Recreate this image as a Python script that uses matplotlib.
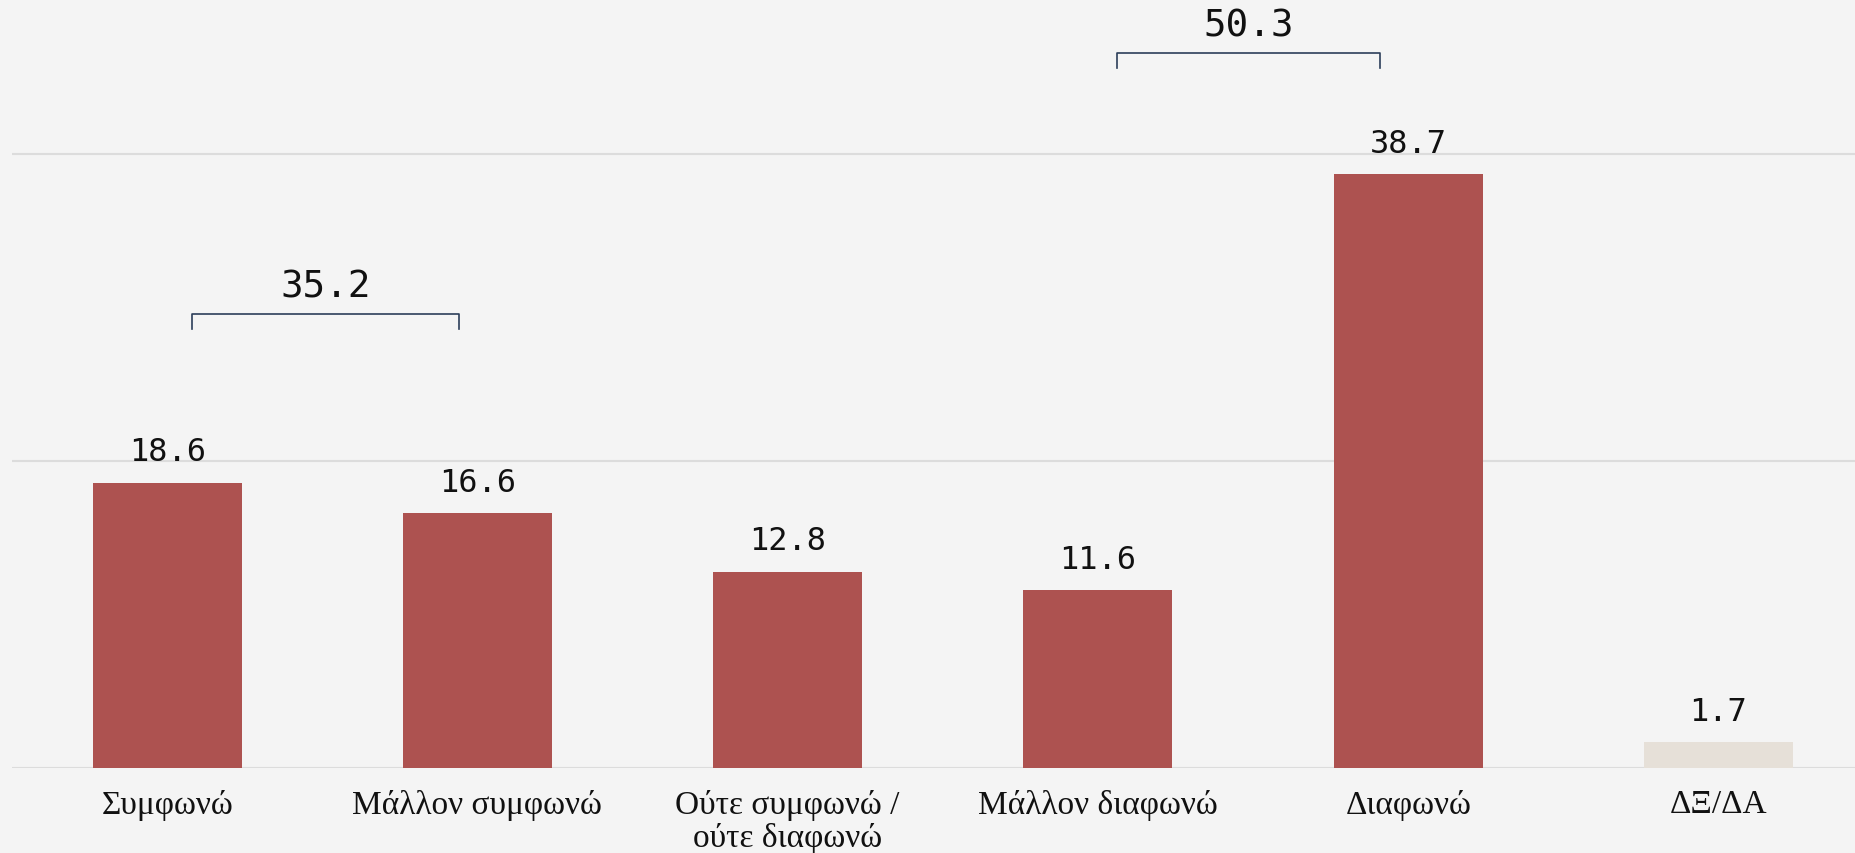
import numpy as np
import matplotlib
matplotlib.use("Agg")
import matplotlib.pyplot as plt

categories = ["Συμφωνώ", "Μάλλον συμφωνώ", "Ούτε συμφωνώ /\nούτε διαφωνώ",
              "Μάλλον διαφωνώ", "Διαφωνώ", "ΔΞ/ΔΑ"]
values = [18.6, 16.6, 12.8, 11.6, 38.7, 1.7]
bar_colors = ["#ad5250"] * 5 + ["#e6e0d8"]

# grouped totals shown above brackets
group_labels = ["35.2", "50.3"]
group_spans = [(0.08, 0.94), (3.06, 3.91)]
group_line_y = [29.6, 46.6]

bg = "#f4f4f4"
fig = plt.figure(figsize=(18.55, 8.54), dpi=100, facecolor=bg)
ax = fig.add_axes([12 / 1855, 85 / 854, 1 - 12 / 1855, 769 / 854])
ax.set_facecolor(bg)

x = np.arange(len(categories))
ax.bar(x, values, width=0.48, color=bar_colors, zorder=2)

ax.set_xlim(-0.5, 5.44)
ax.set_ylim(0, 50.1)
ax.set_yticks([0, 20, 40])
ax.yaxis.grid(True, color="#dcdcdc", linewidth=1.5, zorder=0)
ax.tick_params(axis="y", left=False, labelleft=False)
ax.tick_params(axis="x", length=0, pad=15)
for s in ax.spines.values():
    s.set_visible(False)

ax.set_xticks(x)
ax.set_xticklabels(categories, fontsize=24, family="Liberation Serif",
                   color="#111111", linespacing=1.1)

for xi, v in zip(x, values):
    ax.annotate(f"{v}", (xi, v), xytext=(0, 22), textcoords="offset points",
                ha="center", va="center", fontsize=23, family="DejaVu Sans Mono",
                color="#111111")

for lab, (x0, x1), yl in zip(group_labels, group_spans, group_line_y):
    ax.plot([x0, x0, x1, x1], [yl - 1.0, yl, yl, yl - 1.0], color="#2c3e5a",
            linewidth=1.2, zorder=3)
    ax.text((x0 + x1) / 2, yl + 1.8, lab, ha="center", va="center",
            fontsize=27, family="DejaVu Sans Mono", color="#111111")

fig.savefig("out.png", dpi=100, facecolor=bg)
